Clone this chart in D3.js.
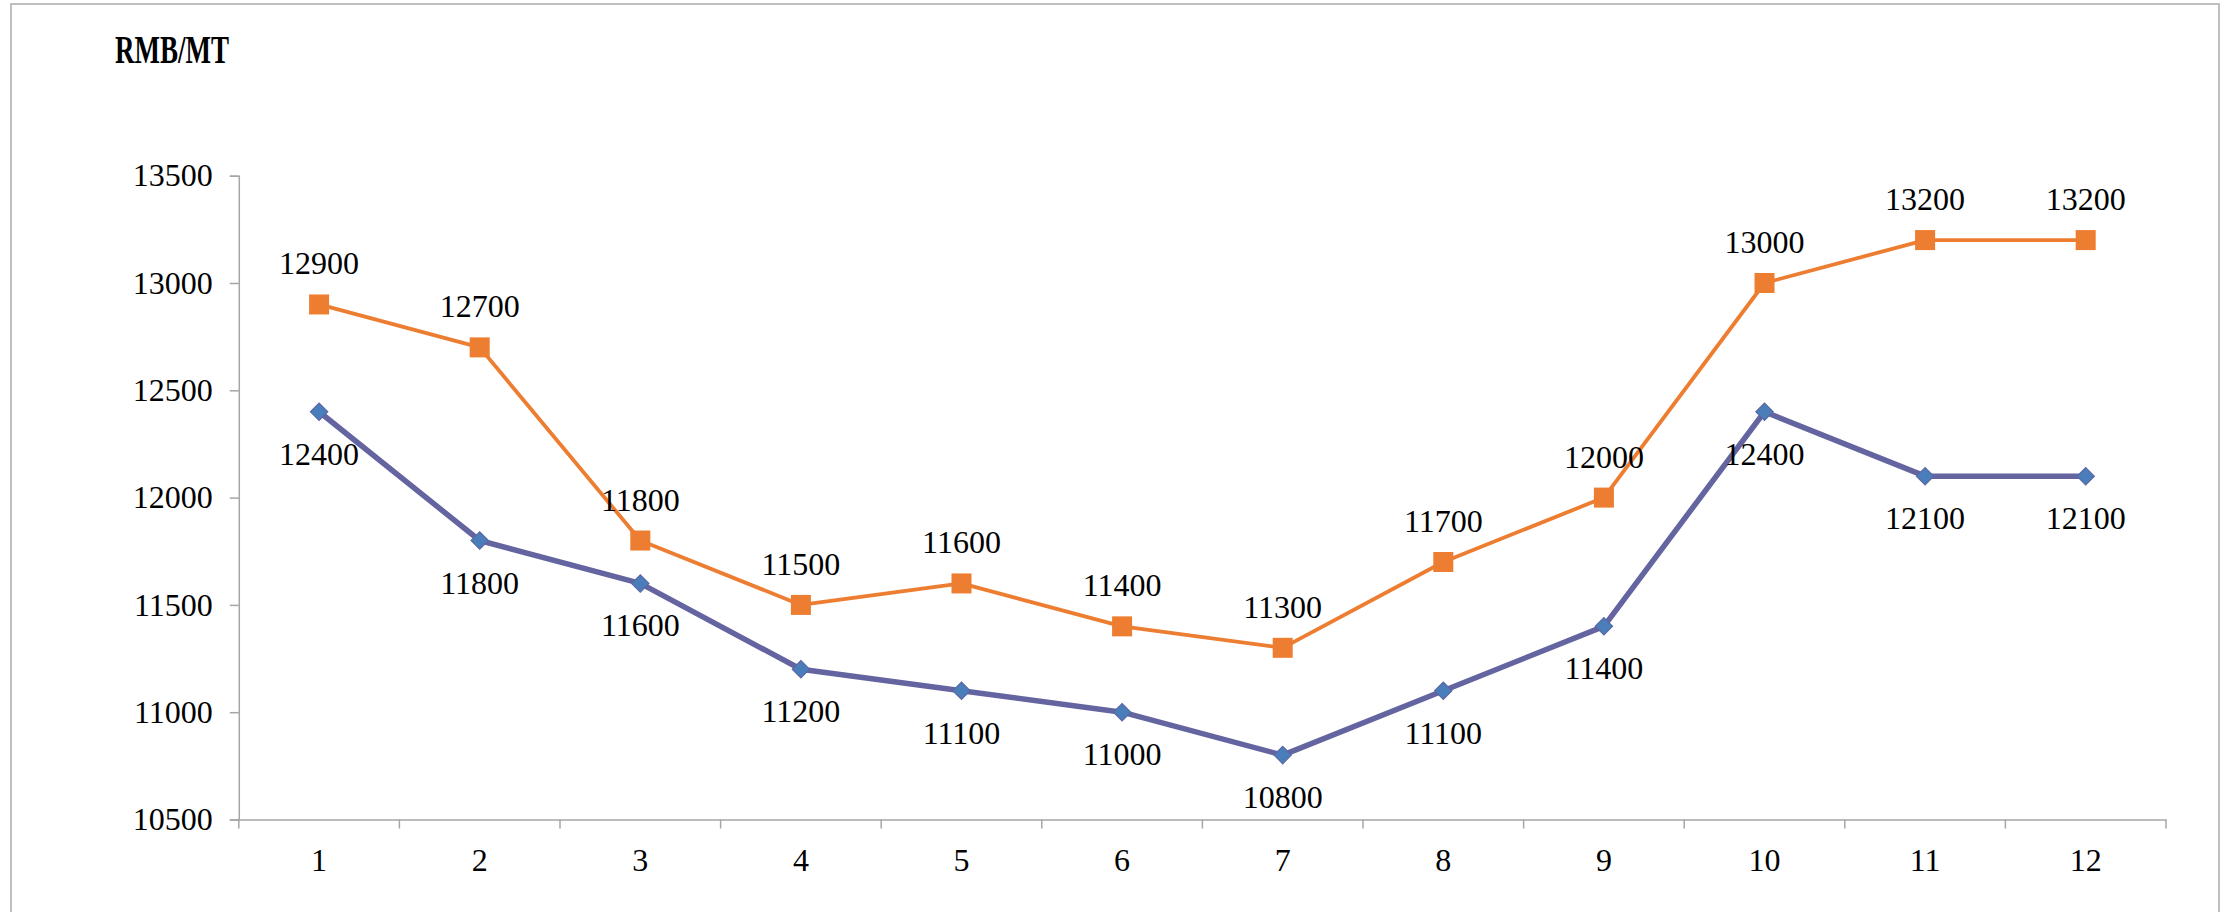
<!DOCTYPE html>
<html>
<head>
<meta charset="utf-8">
<script src="https://cdn.jsdelivr.net/npm/d3@7/dist/d3.min.js"></script>
<style>
  html, body { margin: 0; padding: 0; background: #fff; }
  svg { display: block; }
</style>
</head>
<body>
<script>
const months = ["1","2","3","4","5","6","7","8","9","10","11","12"];
const upperSeries = [12900,12700,11800,11500,11600,11400,11300,11700,12000,13000,13200,13200];
const lowerSeries = [12400,11800,11600,11200,11100,11000,10800,11100,11400,12400,12100,12100];
const yTicks = [10500,11000,11500,12000,12500,13000,13500];
const unitLabel = "RMB/MT";

(function () {
const W = 2234, H = 912;
const FONT = '"Liberation Serif", "Times New Roman", serif';
const FS = "32px";
const svg = d3.select("body").append("svg").attr("width", W).attr("height", H);

// chart border
svg.append("rect").attr("x", 11).attr("y", 4).attr("width", 2208).attr("height", 940)
  .attr("fill", "#fff").attr("stroke", "#bfbfbf").attr("stroke-width", 2);

const pLeft = 238.8, pRight = 2166, pTop = 175.7, pBottom = 819.5;

const x = d3.scaleBand().domain(months).range([pLeft, pRight]);
const y = d3.scaleLinear().domain([10500, 13500]).range([pBottom, pTop]);

// y axis
const yAxis = svg.append("g").attr("transform", `translate(${pLeft},0)`)
  .call(d3.axisLeft(y).tickValues(yTicks).tickSize(9).tickPadding(17).tickFormat(d3.format("d")));
yAxis.select(".domain").attr("stroke", "#a6a6a6").attr("stroke-width", 1.5);
yAxis.selectAll(".tick line").attr("stroke", "#a6a6a6").attr("stroke-width", 1.5);
yAxis.selectAll(".tick text").style("font-size", FS).style("font-family", FONT).attr("fill", "#000");

// x axis
const xAxis = svg.append("g").attr("transform", `translate(0,${pBottom})`)
  .call(d3.axisBottom(x).tickSize(0).tickPadding(0));
xAxis.select(".domain").attr("stroke", "#a6a6a6").attr("stroke-width", 1.5);
xAxis.selectAll(".tick text").style("font-size", FS).style("font-family", FONT)
  .attr("fill", "#000").attr("dy", 0).attr("y", 51);
// category separator ticks
const bounds = months.map(m => x(m)).concat([pRight]);
xAxis.selectAll(".sep").data(bounds).enter().append("line")
  .attr("x1", d => d).attr("x2", d => d).attr("y1", 0).attr("y2", 9)
  .attr("stroke", "#a6a6a6").attr("stroke-width", 1.5);

const cx = (d, i) => x(months[i]) + x.bandwidth() / 2;
const line = d3.line().x((d, i) => cx(d, i)).y(d => y(d));

// lower series (purple line, blue diamonds)
svg.append("path").datum(lowerSeries).attr("d", line)
  .attr("fill", "none").attr("stroke", "#6464a0").attr("stroke-width", 5.5).attr("stroke-linejoin", "round");
// upper series (orange)
svg.append("path").datum(upperSeries).attr("d", line)
  .attr("fill", "none").attr("stroke", "#ed7d31").attr("stroke-width", 3.8).attr("stroke-linejoin", "round");

const diamond = d3.symbol().type(d3.symbolSquare).size(150);
svg.selectAll(".dm").data(lowerSeries).enter().append("path")
  .attr("d", diamond)
  .attr("transform", (d, i) => `translate(${cx(d, i)},${y(d)}) rotate(45)`)
  .attr("fill", "#4a7ebb").attr("stroke", "#5b68a3").attr("stroke-width", 1.2);

svg.selectAll(".sq").data(upperSeries).enter().append("rect")
  .attr("x", (d, i) => cx(d, i) - 10).attr("y", d => y(d) - 10)
  .attr("width", 20).attr("height", 20).attr("fill", "#ed7d31");

// data labels
svg.selectAll(".ul").data(upperSeries).enter().append("text")
  .attr("x", (d, i) => cx(d, i)).attr("y", d => y(d) - 30)
  .attr("text-anchor", "middle").style("font-size", FS).style("font-family", FONT)
  .attr("fill", "#000").text(d => d);
svg.selectAll(".ll").data(lowerSeries).enter().append("text")
  .attr("x", (d, i) => cx(d, i)).attr("y", d => y(d) + 53)
  .attr("text-anchor", "middle").style("font-size", FS).style("font-family", FONT)
  .attr("fill", "#000").text(d => d);

// unit label
svg.append("text").attr("x", 115).attr("y", 63)
  .style("font-size", "40px").style("font-weight", "bold").style("font-family", FONT)
  .attr("textLength", 114).attr("lengthAdjust", "spacingAndGlyphs").attr("fill", "#000").text(unitLabel);
})();
</script>
</body>
</html>
